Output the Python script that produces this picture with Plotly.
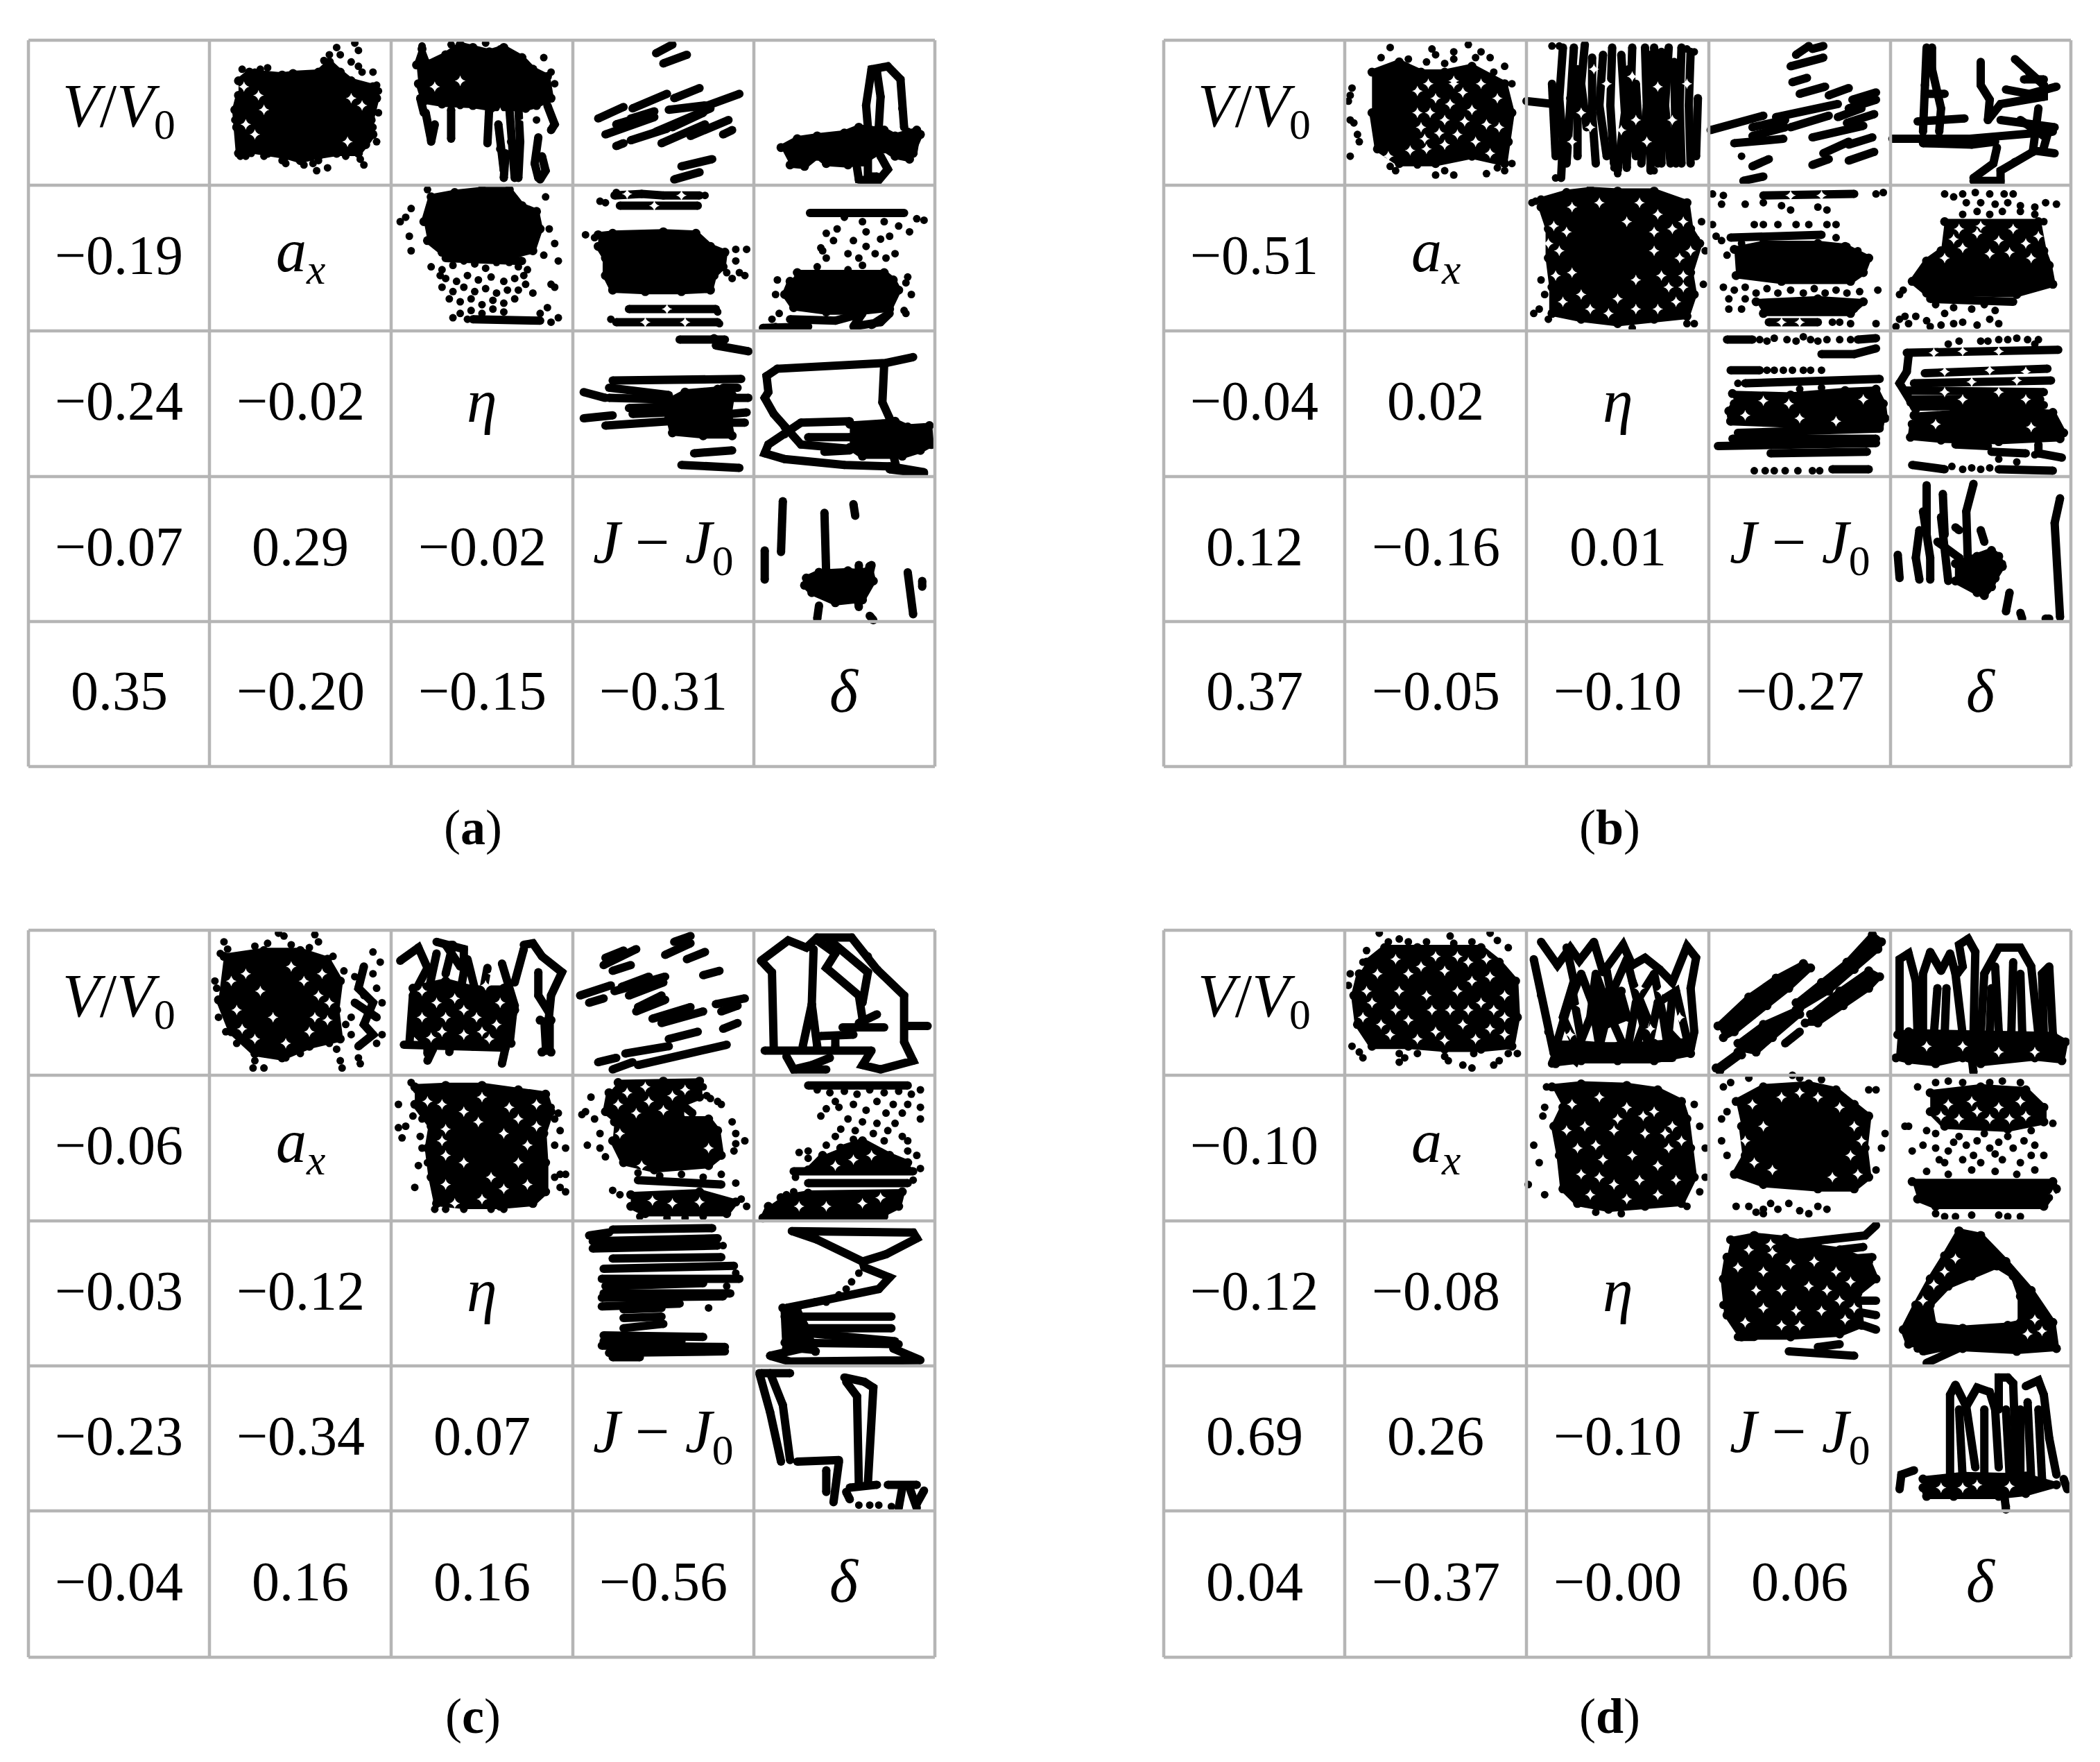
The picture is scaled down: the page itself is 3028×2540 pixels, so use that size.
import plotly.graph_objects as go

diag_labels = ["<i>V</i>/<i>V</i><sub>0</sub>", "<i>a</i><sub><i>x</i></sub>", "<i>η</i>",
               "<i>J</i> − <i>J</i><sub>0</sub>", "<i>δ</i>"]
panel_names = ["a", "b", "c", "d"]
corr_a = ["−0.19", "−0.24", "−0.02", "−0.07", "0.29", "−0.02", "0.35", "−0.20", "−0.15", "−0.31"]
corr_b = ["−0.51", "−0.04", "0.02", "0.12", "−0.16", "0.01", "0.37", "−0.05", "−0.10", "−0.27"]
corr_c = ["−0.06", "−0.03", "−0.12", "−0.23", "−0.34", "0.07", "−0.04", "0.16", "0.16", "−0.56"]
corr_d = ["−0.10", "−0.12", "−0.08", "0.69", "0.26", "−0.10", "0.04", "−0.37", "−0.00", "0.06"]

# ---------- panel a ----------
a01_fill = [[(16,28),(22,22),(40,24),(46,23),(60,22),(66,15),(72,22),(78,28),(90,32),(92,40),(89,55),(90,65),(86,72),(82,78),(70,78),(60,80),(50,83),(42,80),(32,78),(22,76),(16,78),(15,60),(14,48),(16,38)]]
a01_dots = [(80,2),(82,7),(70,5),(72,10),(63,14),(66,10),(78,15),(82,18),(90,22),(84,22),(93,35),(92,31),(92,70),(85,86),(65,88),(59,90),(57,85),(42,85),(40,83),(52,86),(25,22),(28,20),(33,24),(38,25),(32,19),(23,78),(17,80),(60,83),(75,80),(83,82),(18,20),(20,80),(30,80),(14,55),(93,50),(90,60)]
a01_gaps = [(27,38),(30,48),(25,65),(78,40),(20,58),(76,70),(84,45),(19,32)]
a02_fill = [[(14,17),(17,6),(20,16),(30,10),(38,3),(45,5),(54,8),(62,5),(72,12),(78,20),(86,25),(88,40),(80,45),(74,47),(55,47),(45,45),(28,44),(18,42),(15,30)]]
a02_lines = [[(19,50),(22,69)],[(33,48),(33,68)],[(24,58),(22,70)],[(54,46),(53,71)],[(59,58),(60,75),(62,90)],[(65,46),(66,70),(68,95)],[(70,46),(71,70),(70,95)],[(81,67),(79,85),(81,95)],[(83,80),(85,90),(82,96)],[(86,45),(90,58),(88,62)],[(63,78),(62,95)],[(16,40),(18,50)]]
a02_dots = [(88,22),(90,30),(84,12),(17,4),(33,3),(52,2),(60,6),(38,45),(80,55)]
a02_gaps = [(38,28),(24,32),(60,50),(74,55)]
a03_lines = [[(46,9),(55,3)],[(50,16),(63,10)],[(56,40),(70,33)],[(33,47),(52,37)],[(14,54),(28,46)],[(18,65),(45,53)],[(70,47),(92,37)],[(32,54),(45,49)],[(46,63),(76,47)],[(49,71),(73,58)],[(65,66),(86,55)],[(32,69),(52,61)],[(24,73),(28,71)],[(83,65),(88,62)],[(53,48),(73,45)],[(60,87),(77,82)],[(56,96),(70,91)],[(24,58),(40,52)],[(55,60),(72,50)]]
a04_fill = [[(15,74),(24,68),(35,66),(50,64),(58,60),(72,62),(78,66),(90,62),(92,65),(88,78),(86,82),(78,80),(72,75),(60,84),(52,86),(40,85),(35,80),(28,87),(20,86)]]
a04_lines = [[(63,60),(62,45),(65,20),(74,18),(81,27),(82,47),(83,60)],[(69,60),(70,39),(68,22)],[(56,80),(58,96),(68,98),(74,89),(70,80)],[(63,82),(63,94),(68,94)],[(85,63),(86,79)],[(90,63),(88,78)]]
a12_fill = [[(18,25),(22,8),(35,5),(50,3),(65,3),(72,14),(80,18),(82,30),(78,45),(62,50),(45,48),(28,46),(20,38)]]
a12_lines = [[(45,92),(82,93)],[(30,50),(72,52)]]
a12_dots = [(22,56),(28,58),(34,55),(40,52),(46,54),(52,57),(58,53),(65,53),(70,56),(75,58),(30,64),(36,66),(42,62),(48,65),(55,63),(62,66),(68,64),(73,62),(28,70),(34,73),(40,70),(46,73),(52,71),(58,74),(64,72),(32,78),(38,80),(44,78),(50,82),(56,79),(62,81),(68,78),(78,74),(88,68),(90,70),(44,86),(50,88),(56,85),(62,87),(38,88),(34,91),(42,92),(82,88),(88,94),(86,84),(92,91),(87,30),(90,40),(84,48),(92,52),(11,16),(8,22),(5,25),(10,35),(11,45),(85,8),(20,3),(27,62),(70,72),(74,68)]
a13_fill = [[(14,34),(22,33),(50,32),(68,33),(76,42),(84,46),(83,56),(78,62),(76,72),(60,73),(40,73),(22,72),(18,62),(18,50),(14,42)]]
a13_lines = [[(23,7),(38,6),(50,7),(70,7)],[(26,14),(69,14)],[(31,85),(79,85)],[(24,94),(80,94)]]
a13_dots = [(7,34),(12,36),(90,44),(96,44),(90,52),(85,60),(92,60),(88,64),(95,62),(24,5),(15,11),(18,12),(73,7),(80,87),(81,95),(21,92)]
a13_gaps = [(30,6),(45,14),(60,7),(52,85),(40,94),(62,94)]
a14_fill = [[(24,60),(72,60),(77,65),(80,72),(75,85),(60,87),(40,87),(22,84),(17,75),(20,66)]]
a14_lines = [[(31,19),(83,19)],[(5,98),(30,97),(20,92),(45,93),(60,88),(55,97),(70,94),(75,88),(65,96)]]
a14_dots = [(60,25),(50,22),(46,30),(62,32),(72,25),(80,28),(86,32),(40,33),(44,38),(55,38),(62,42),(70,37),(75,35),(37,43),(38,45),(40,50),(52,47),(58,50),(67,47),(78,47),(73,50),(35,56),(52,58),(60,55),(85,63),(84,67),(87,75),(13,65),(12,75),(14,88),(10,92),(84,88),(83,86),(12,97),(90,23),(94,24)]
a23_fill = [[(53,48),(62,42),(80,40),(88,44),(86,60),(88,72),(72,72),(55,70),(53,60)]]
a23_lines = [[(59,6),(78,5),(84,6),(79,10),(97,14)],[(22,34),(93,33)],[(6,42),(18,46)],[(20,39),(53,44)],[(20,46),(53,47)],[(31,53),(53,52)],[(33,57),(53,56)],[(6,60),(22,58)],[(18,65),(53,62)],[(86,46),(97,46)],[(87,57),(96,56)],[(87,63),(95,63)],[(83,39),(91,39)],[(67,84),(88,82)],[(60,92),(92,94)]]
a24_fill = [[(53,64),(78,62),(85,66),(97,65),(98,78),(92,82),(82,86),(60,86),(53,80)]]
a24_lines = [[(88,18),(73,22),(13,26),(7,31),(8,42),(6,46),(11,57),(17,66),(26,78),(53,81)],[(72,23),(71,49),(75,60)],[(26,63),(17,71),(8,78),(6,84),(17,88),(50,92),(75,93),(94,97)],[(77,85),(79,95)],[(30,73),(53,73)],[(39,83),(53,82)],[(26,63),(53,62)],[(75,95),(94,98)]]
a34_fill = [[(29,70),(36,66),(52,65),(61,66),(64,62),(66,72),(60,85),(45,87),(32,80),(28,75)]]
a34_lines = [[(16,17),(15,52)],[(6,51),(6,71)],[(39,25),(40,69)],[(55,19),(56,27)],[(58,61),(58,72)],[(65,61),(63,72)],[(85,66),(88,95)],[(93,72),(93,76)],[(36,89),(35,98)],[(64,96),(66,99)],[(57,80),(58,90)]]

# ---------- panel b ----------
b01_fill = [[(15,22),(30,15),(42,22),(55,22),(70,18),(88,30),(92,50),(90,70),(88,85),(70,80),(50,85),(30,85),(18,75),(15,50)]]
b01_dots = [(25,5),(48,6),(50,10),(68,3),(60,13),(72,12),(80,12),(88,18),(35,13),(20,12),(4,33),(3,38),(2,42),(5,57),(3,55),(7,65),(8,70),(3,80),(28,90),(25,87),(40,86),(50,93),(55,90),(60,93),(78,92),(84,88),(88,90),(92,85),(60,8),(75,8),(45,15),(55,16),(82,22),(92,30)]
b01_gaps = [(40,35),(42,60),(47,50),(55,55),(60,30),(70,48),(72,70),(45,75),(60,28),(65,36),(50,40),(40,50),(62,65),(75,30),(85,60),(55,72),(78,58),(46,30),(52,64),(66,56),(58,44),(84,40),(80,78),(44,68),(36,76),(24,80)]
b02_lines = [[(20,5),(18,40),(20,70),(19,95)],[(26,5),(24,40),(22,85)],[(32,3),(30,30),(33,60)],[(42,10),(40,45),(44,80)],[(47,5),(46,45),(48,85)],[(52,10),(54,50),(50,90)],[(58,5),(57,45),(60,80)],[(65,5),(66,45),(63,85)],[(70,5),(71,40),(72,85)],[(78,5),(76,45),(79,85)],[(85,5),(84,45),(85,85)],[(90,8),(89,45),(90,85)],[(0,42),(15,44)],[(36,12),(36,50)],[(60,30),(62,72)],[(14,30),(16,80)],[(94,40),(93,80)],[(36,50),(38,85)],[(28,20),(28,80)],[(56,20),(55,88)],[(74,8),(74,85)],[(81,15),(82,85)],[(68,10),(68,90)]]
b02_dots = [(14,4),(18,4),(88,6),(92,8),(16,95),(50,92),(48,88),(70,90)]
b02_gaps = [(37,20),(35,60),(44,30),(52,62),(60,55),(72,32),(58,25),(80,55),(30,50),(66,70),(88,30),(25,70)]
b03_lines = [[(48,10),(55,4)],[(57,6),(63,4)],[(45,18),(63,12)],[(46,29),(54,26)],[(50,37),(64,32)],[(66,38),(77,33)],[(79,41),(92,36)],[(77,47),(92,41)],[(1,62),(30,52)],[(37,53),(71,44)],[(45,60),(66,52)],[(76,57),(91,51)],[(24,60),(42,55)],[(24,66),(42,60)],[(14,71),(41,68)],[(57,67),(85,59)],[(77,72),(90,67)],[(63,78),(77,70)],[(77,83),(91,77)],[(57,86),(66,82)],[(24,87),(33,82)],[(19,97),(30,94)],[(71,53),(84,47)]]
b03_dots = [(18,80)]
b04_lines = [[(1,68),(18,68),(43,68),(90,63)],[(20,5),(19,31),(18,63)],[(23,5),(23,20),(28,47),(27,63)],[(50,15),(50,31),(55,41),(54,55)],[(69,13),(77,23),(85,31),(85,39),(61,44),(54,55)],[(74,27),(85,27)],[(64,34),(77,37),(92,32)],[(82,47),(79,76),(91,78)],[(15,56),(41,54)],[(61,55),(91,60)],[(87,65),(85,74)],[(59,74),(57,85),(46,95)],[(79,77),(69,84),(61,90),(61,97),(46,97)],[(18,71),(45,72),(58,70)],[(20,37),(30,37)],[(72,55),(85,66)],[(20,70),(45,70)]]
b12_fill = [[(8,10),(22,5),(35,3),(50,4),(70,4),(88,12),(90,30),(95,40),(90,60),(92,75),(88,90),(70,92),(50,95),(30,92),(14,88),(14,70),(12,50),(12,30),(8,15)]]
b12_gaps = [(15,28),(18,45),(16,62),(20,80),(72,20),(80,30),(84,50),(78,70),(82,80),(25,15),(62,12),(70,45),(74,62),(25,60),(30,75),(60,85),(45,88),(35,85),(72,85),(86,25),(40,12),(60,65),(50,78),(86,70),(22,32),(90,45),(12,40),(86,62),(70,32),(55,25)]
b12_dots = [(5,11),(3,12),(96,25),(93,37),(98,45),(4,88),(92,95),(58,98),(10,75),(7,85),(97,68),(8,65),(12,92),(88,95)]
b13_fill = [[(14,44),(30,40),(60,40),(75,42),(88,50),(85,60),(78,66),(40,66),(15,62)],[(26,80),(60,78),(85,80),(78,88),(30,88)]]
b13_lines = [[(30,7),(80,6)],[(33,94),(60,94)],[(12,36),(62,34)]]
b13_dots = [(2,6),(8,7),(92,6),(96,5),(7,13),(20,13),(30,12),(40,14),(45,17),(60,15),(65,17),(2,27),(25,27),(30,27),(38,27),(48,27),(55,27),(65,27),(70,27),(8,70),(14,72),(20,70),(26,74),(32,71),(38,74),(45,72),(52,74),(58,71),(64,74),(70,72),(76,74),(83,73),(93,72),(11,78),(20,78),(11,85),(18,85),(80,85),(68,94),(72,94),(78,95),(92,95),(14,36),(18,40),(10,48),(7,38),(4,35),(70,36),(76,42),(82,45)]
b13_gaps = [(40,94),(50,94),(45,7),(62,7)]
b14_fill = [[(30,25),(82,25),(85,45),(88,55),(90,68),(70,75),(20,74),(12,66),(20,52),(28,45)]]
b14_gaps = [(35,37),(48,33),(60,38),(75,40),(82,35),(30,50),(55,47),(40,43),(68,30),(50,28),(66,46),(78,50),(38,30)]
b14_lines = [[(22,78),(68,80)]]
b14_dots = [(30,6),(35,8),(40,6),(47,5),(55,6),(63,6),(68,6),(42,12),(50,12),(58,13),(65,12),(72,14),(80,15),(86,12),(92,13),(40,20),(48,18),(55,20),(62,18),(72,18),(80,20),(85,25),(25,82),(35,84),(45,85),(52,82),(58,86),(30,88),(5,92),(10,95),(14,90),(20,93),(28,96),(35,95),(40,94),(48,96),(55,92),(60,95),(3,97),(22,97),(8,90),(5,75),(7,72)]
b23_fill = [[(13,43),(45,44),(75,41),(92,40),(96,50),(97,60),(94,64),(60,62),(12,62),(11,55),(14,50)]]
b23_lines = [[(10,6),(24,6)],[(62,16),(80,16),(92,12)],[(12,27),(28,27)],[(20,36),(50,35),(94,33)],[(12,62),(94,66)],[(16,70),(94,67)],[(13,74),(92,74)],[(5,79),(92,77)],[(34,84),(87,83)],[(68,95),(88,95)],[(82,6),(92,5)]]
b23_dots = [(28,6),(32,7),(36,5),(43,6),(48,7),(52,4),(56,6),(60,7),(65,6),(72,6),(78,6),(32,27),(36,27),(41,27),(46,27),(52,27),(56,27),(62,27),(16,36),(25,96),(31,96),(36,96),(42,96),(49,96),(57,96),(61,96),(50,40),(62,39)]
b23_gaps = [(20,58),(50,60),(30,48),(70,62),(44,50),(85,47)]
b24_fill = [[(13,58),(35,56),(60,54),(90,56),(96,70),(94,74),(60,76),(28,75),(11,73),(12,64)]]
b24_lines = [[(9,15),(93,13)],[(19,29),(87,26)],[(13,36),(89,34)],[(8,41),(85,42)],[(11,47),(83,47)],[(13,52),(85,51)],[(10,17),(9,28),(5,36),(11,49),(14,54)],[(36,78),(54,79)],[(56,83),(75,84)],[(82,78),(82,84),(95,87)],[(12,92),(30,95)],[(60,95),(90,96)]]
b24_dots = [(32,9),(38,7),(50,7),(54,7),(60,6),(65,6),(70,5),(76,6),(80,9),(82,6),(34,93),(40,95),(45,94),(50,95),(55,94),(60,88),(70,90),(80,85)]
b24_gaps = [(24,15),(40,14),(60,14),(30,28),(55,27),(75,28),(45,35),(70,34),(30,42),(60,42),(40,47),(75,47),(25,64),(78,66)]
b34_fill = [[(36,60),(48,55),(56,51),(60,55),(62,62),(58,70),(56,76),(52,82),(48,80),(36,72)]]
b34_lines = [[(20,6),(20,40)],[(29,12),(30,40)],[(46,5),(42,24),(43,64)],[(18,24),(22,56),(22,71)],[(16,37),(14,56),(16,71)],[(4,54),(5,70)],[(28,28),(32,72)],[(36,35),(38,37)],[(50,37),(52,45)],[(26,45),(38,56),(38,72)],[(94,15),(91,32),(94,97)],[(66,80),(64,93)],[(72,94),(73,98)],[(86,98),(88,98)]]
b34_dots = [(62,60),(50,80)]

# ---------- panel c ----------
c01_fill = [[(8,18),(30,14),(50,14),(65,20),(72,35),(70,55),(72,75),(55,80),(40,88),(25,85),(12,70),(5,48)]]
c01_lines = [[(85,25),(82,40),(90,50),(85,65),(90,72),(82,80)],[(80,50),(92,60)]]
c01_dots = [(38,2),(41,4),(58,3),(60,8),(8,8),(10,13),(6,16),(25,90),(30,95),(24,95),(42,88),(72,90),(73,95),(83,92),(90,15),(94,22),(92,40),(78,60),(75,65),(95,50),(95,72),(92,78),(70,82),(82,88),(3,35),(4,40),(25,11),(32,9),(45,10),(55,12),(68,18),(74,28),(5,60),(9,70),(15,78),(50,85),(66,78),(80,32),(85,45),(90,30),(78,72)]
c01_gaps = [(20,30),(35,60),(60,45),(55,70),(25,75),(45,25),(15,55),(62,30),(28,42),(65,62),(52,35),(18,68),(12,35),(42,78),(66,50),(58,60)]
c02_fill = [[(12,40),(30,35),(45,40),(62,40),(68,55),(66,78),(45,80),(20,80),(12,70)],[(82,62),(88,62),(88,84),(83,84)]]
c02_lines = [[(5,21),(15,12),(20,26),(12,45),(10,79)],[(25,8),(33,10),(40,13),(40,29),(35,61),(32,84)],[(25,16),(20,45),(20,85)],[(53,26),(50,45),(45,80)],[(61,23),(68,52),(61,92)],[(73,10),(78,9),(83,18),(94,29),(88,45),(86,64),(85,83)],[(73,13),(68,36)],[(81,29),(81,45),(87,57)],[(7,79),(63,81)],[(20,90),(23,82)],[(30,10),(38,25)],[(34,10),(30,30)],[(42,20),(46,40)]]
c02_gaps = [(25,50),(40,55),(52,38),(47,60),(28,70),(58,65),(40,72),(56,30),(17,60),(54,75),(35,47),(60,50),(17,42),(50,70),(30,60),(22,74)]
c03_lines = [[(51,17),(65,9)],[(56,8),(65,4)],[(63,20),(73,15)],[(72,31),(81,28)],[(17,24),(35,13)],[(18,19),(28,14)],[(22,28),(32,24)],[(4,45),(21,38)],[(23,42),(51,32)],[(27,39),(42,32)],[(31,45),(50,36)],[(9,50),(17,47)],[(36,53),(49,45)],[(35,56),(51,48)],[(44,61),(65,53)],[(49,64),(72,56)],[(79,51),(95,47)],[(82,56),(91,52)],[(83,68),(91,64)],[(53,75),(69,70)],[(29,85),(53,80)],[(14,91),(24,88)],[(22,96),(33,91)],[(36,93),(85,79)]]
c04_lines = [[(4,21),(19,7),(29,12),(35,5),(54,5),(63,18),(68,27),(83,45),(83,77),(88,90),(70,96),(60,93),(65,83),(6,83)],[(4,21),(10,29),(11,82)],[(35,7),(45,16),(40,26),(58,45),(60,61)],[(42,7),(63,29),(60,50)],[(33,13),(32,51),(27,80)],[(32,51),(35,80)],[(58,64),(68,58)],[(49,67),(72,67)],[(37,73),(55,72)],[(45,74),(45,80)],[(85,66),(96,66)],[(18,87),(22,96),(32,93),(42,88)],[(23,96),(40,96)]]
c12_fill = [[(13,8),(30,7),(50,7),(70,10),(85,13),(88,25),(84,40),(85,60),(85,80),(78,88),(60,90),(40,90),(25,88),(22,70),(20,50),(22,35),(13,20)]]
c12_gaps = [(28,20),(50,15),(65,22),(30,37),(48,32),(62,40),(30,55),(40,60),(70,60),(55,70),(30,75),(75,75),(50,85),(80,35),(35,88),(70,30),(20,18),(80,20),(40,25),(75,48),(28,45),(62,78)]
c12_dots = [(4,20),(11,5),(14,10),(88,22),(92,26),(4,36),(8,35),(6,43),(17,30),(12,28),(93,38),(96,50),(90,48),(15,62),(20,60),(93,68),(96,68),(96,80),(93,77),(13,77),(24,92),(30,92),(40,92),(55,92),(62,92),(16,42),(17,50),(90,30),(90,70)]
c13_fill = [[(23,32),(50,30),(75,30),(80,38),(82,55),(75,62),(45,65),(28,60),(22,45)],[(25,5),(50,4),(70,4),(70,15),(60,20),(60,30),(25,32),(18,25),(20,12)],[(32,82),(70,80),(90,87),(85,95),(40,95),(32,90)]]
c13_lines = [[(36,72),(82,75)],[(60,20),(66,26)]]
c13_gaps = [(30,12),(42,18),(55,14),(35,26),(50,24),(62,10),(26,40),(75,50),(40,8),(25,20),(38,62),(55,88),(70,87),(44,86)]
c13_dots = [(10,15),(7,25),(5,27),(12,30),(15,40),(80,18),(76,16),(82,20),(88,32),(90,40),(90,47),(89,52),(8,48),(15,50),(18,56),(95,45),(36,67),(48,69),(60,68),(72,70),(82,68),(90,74),(22,79),(26,82),(93,85),(96,90),(37,97),(52,98),(62,98),(72,97),(72,8),(74,14)]
c14_fill = [[(15,84),(30,81),(82,80),(80,90),(72,95),(5,98),(8,90)],[(48,50),(60,45),(75,55),(85,60),(85,65),(30,65),(38,55)]]
c14_lines = [[(30,7),(85,7)],[(22,66),(88,66)],[(30,74),(85,74)],[(5,98),(72,97)]]
c14_dots = [(35,10),(42,12),(50,11),(57,13),(64,10),(72,12),(80,11),(87,13),(92,10),(45,18),(55,20),(68,18),(77,20),(85,20),(92,22),(40,23),(47,22),(62,24),(73,26),(82,26),(37,28),(52,30),(60,32),(68,33),(78,33),(92,30),(48,37),(56,38),(66,40),(74,38),(82,42),(45,42),(55,44),(72,45),(85,45),(40,48),(30,52),(25,53),(30,57),(85,52),(90,55),(23,70),(88,72),(92,64),(22,80),(18,82)]
c14_gaps = [(55,58),(65,55),(45,62),(40,90),(60,88),(25,90),(70,84)]
c23_lines = [[(9,10),(20,8)],[(22,6),(77,5)],[(11,14),(80,12)],[(11,19),(80,17)],[(22,26),(82,25)],[(17,33),(89,31)],[(16,40),(92,40)],[(18,45),(72,43)],[(17,50),(87,50)],[(16,53),(83,52)],[(16,59),(59,57)],[(28,61),(49,60)],[(28,67),(49,66)],[(28,74),(50,71)],[(17,79),(72,80)],[(16,86),(84,87)],[(20,91),(84,90)],[(22,94),(37,94)],[(17,83),(60,83)]]
c23_dots = [(83,17),(75,60),(90,36),(85,45)]
c24_fill = [[(16,60),(24,60),(30,75),(34,90),(18,88)]]
c24_lines = [[(21,7),(88,8),(90,12),(73,23),(60,28),(35,13),(21,7)],[(60,28),(61,32),(75,39),(69,47),(34,56),(18,60)],[(17,61),(18,87)],[(17,66),(76,66)],[(22,74),(76,74)],[(18,76),(78,83)],[(17,84),(80,85)],[(9,93),(30,87)],[(9,93),(20,97),(92,96),(77,88)]]
c24_dots = [(58,36),(54,42),(51,47),(47,51),(40,56)]
c34_lines = [[(3,5),(9,32),(15,66)],[(9,5),(16,27),(20,65)],[(4,5),(20,5)],[(24,66),(47,65)],[(51,11),(57,21),(58,82)],[(50,8),(61,11),(66,15),(63,81)],[(40,72),(40,87)],[(47,66),(44,94)],[(53,84),(68,82)],[(51,87),(53,92)],[(74,82),(90,82)],[(82,84),(80,98)],[(86,84),(90,98)],[(94,86),(90,95)]]
c34_dots = [(58,96),(64,96),(69,96),(76,97)]

# ---------- panel d ----------
d01_fill = [[(12,22),(22,12),(40,12),(60,12),(75,12),(85,22),(94,35),(95,60),(92,80),(75,82),(55,82),(35,80),(15,80),(7,65),(5,45),(8,30)]]
d01_gaps = [(18,30),(28,20),(42,25),(55,28),(68,22),(80,32),(88,45),(75,50),(62,42),(45,45),(30,42),(15,50),(20,65),(35,62),(50,70),(65,65),(80,68),(88,72),(72,75),(40,75),(25,72),(58,55),(10,60),(70,35),(35,30),(50,18),(62,18),(78,20),(88,60),(12,42),(48,55),(68,55),(28,55),(82,55),(55,76)]
d01_dots = [(19,2),(24,8),(30,6),(35,8),(58,4),(60,9),(80,2),(84,7),(90,12),(12,14),(10,22),(3,30),(2,38),(4,80),(8,84),(10,88),(33,88),(30,91),(40,85),(55,87),(57,90),(65,93),(70,95),(82,93),(85,90),(71,85),(95,85),(90,85),(45,8),(70,8),(30,85)]
d02_fill = [[(34,42),(52,42),(56,60),(40,68)],[(16,78),(30,78),(50,80),(70,78),(90,76),(90,85),(70,90),(50,90),(30,90),(16,92)]]
d02_lines = [[(8,8),(17,24),(24,12),(29,21),(37,8),(42,29),(53,10),(58,24),(65,19),(73,27),(80,36),(88,11),(93,19),(90,40),(92,70),(90,82)],[(4,20),(8,45),(12,70),(15,85),(22,55),(30,30),(36,50),(40,80),(48,40),(55,20),(62,55),(67,80),(72,50),(82,42),(88,75)],[(22,12),(26,35),(20,60),(28,82),(35,60),(38,30),(48,65),(55,85),(60,50),(70,30),(75,60),(78,85)],[(15,80),(90,80)],[(14,92),(18,80),(27,90),(30,82),(45,85),(55,88),(80,88)],[(25,40),(30,75)],[(58,35),(66,60),(60,80)],[(80,45),(78,70),(84,78)],[(44,28),(46,42)]]
d02_gaps = [(18,40),(30,52),(24,72),(62,40),(68,68),(84,60),(74,42)]
d03_fill = [[(5,66),(22,46),(37,33),(52,23),(56,26),(44,40),(32,52),(14,70),(8,74)],[(48,50),(62,36),(76,22),(90,3),(95,8),(93,13),(80,27),(66,42),(50,54)],[(16,78),(30,65),(48,55),(50,58),(35,74),(26,84),(18,82)],[(4,95),(16,84),(18,86),(6,97)],[(56,58),(72,42),(88,28),(94,32),(88,40),(74,52),(60,64),(53,64)]]
d03_lines = [[(42,78),(50,70)],[(26,82),(34,74)]]
d04_fill = [[(4,72),(10,70),(90,72),(97,77),(95,90),(80,88),(50,92),(40,88),(25,92),(10,90),(3,88)]]
d04_lines = [[(45,88),(46,98)],[(5,72),(5,20),(10,16),(14,35),(15,72)],[(18,72),(18,30),(22,15),(28,28),(33,16),(36,30),(40,72)],[(37,30),(40,25),(38,10),(43,6),(47,15),(46,72)],[(50,72),(52,30),(60,12),(72,12),(78,25),(82,72)],[(60,70),(58,25)],[(67,70),(68,22)],[(85,72),(84,30),(88,25),(90,72)],[(24,72),(26,40)],[(30,72),(31,40)],[(55,70),(56,40)],[(73,70),(72,30)]]
d04_gaps = [(20,80),(40,80),(60,84),(80,84)]
d12_fill = [[(14,8),(30,6),(55,7),(72,10),(85,18),(88,30),(90,50),(92,70),(85,88),(65,90),(45,92),(28,88),(20,78),(18,55),(15,35),(20,22)]]
d12_gaps = [(25,20),(40,15),(55,22),(70,25),(80,35),(32,35),(48,38),(65,40),(78,50),(28,50),(42,58),(58,55),(72,62),(82,72),(30,68),(48,75),(62,72),(35,82),(72,82),(55,85),(22,38),(85,45),(50,30),(38,48),(64,28),(40,70),(76,40)]
d12_dots = [(11,8),(10,22),(9,28),(4,48),(7,60),(1,75),(10,82),(92,20),(95,35),(98,50),(98,70),(95,80),(38,94),(52,95),(88,90)]
d13_fill = [[(15,18),(30,8),(55,6),(70,10),(80,20),(88,28),(86,50),(88,70),(80,78),(60,78),(30,75),(14,68),(20,55),(18,35)]]
d13_gaps = [(24,20),(40,15),(60,15),(72,22),(30,35),(80,35),(78,55),(35,65),(68,70),(25,60),(82,68),(50,12),(20,45),(84,45)]
d13_dots = [(15,90),(22,90),(26,94),(30,92),(34,88),(30,95),(38,92),(44,88),(50,93),(55,95),(60,90),(65,92),(8,8),(10,25),(12,5),(22,2),(46,0),(50,2),(62,3),(88,10),(92,10),(7,45),(10,55),(95,50),(97,40),(92,65),(7,30)]
d14_fill = [[(12,73),(90,73),(92,78),(85,90),(25,90),(15,85)],[(22,12),(50,8),(75,10),(85,22),(85,32),(65,37),(30,35),(22,25)]]
d14_gaps = [(32,20),(45,18),(60,22),(72,18),(38,30),(55,30),(75,28),(90,82),(28,28),(48,25),(66,30)]
d14_dots = [(15,8),(25,5),(32,4),(40,5),(55,5),(62,4),(72,5),(8,35),(10,35),(20,38),(25,40),(38,42),(52,40),(65,42),(78,38),(90,33),(18,48),(25,50),(32,52),(42,48),(55,50),(68,50),(80,48),(12,52),(30,60),(40,58),(50,60),(62,58),(72,60),(85,55),(20,66),(32,68),(45,65),(58,66),(70,68),(80,65),(25,95),(30,97),(36,97),(45,96),(60,96),(65,97),(72,97),(88,84),(35,46),(48,45),(60,46),(74,45),(27,58),(46,55),(58,54),(78,55)]
d23_fill = [[(12,13),(25,10),(42,12),(60,18),(72,20),(88,28),(92,40),(82,50),(84,72),(72,78),(45,80),(18,80),(10,65),(8,40),(10,25)]]
d23_gaps = [(22,20),(35,22),(30,35),(45,30),(58,28),(70,35),(40,48),(55,45),(72,55),(30,60),(48,62),(62,62),(75,68),(20,70),(80,60),(50,72),(65,48),(40,72),(16,32),(26,48),(78,42),(34,16)]
d23_lines = [[(50,15),(86,10),(92,3)],[(57,28),(90,25)],[(72,20),(85,18)],[(84,37),(92,40)],[(82,55),(92,55)],[(83,63),(92,65)],[(85,72),(92,75)],[(16,80),(25,80)],[(44,90),(80,93)],[(60,87),(72,85)],[(8,58),(15,58)]]
d24_fill = [[(38,7),(50,10),(64,28),(78,48),(90,70),(92,88),(70,90),(40,88),(10,85),(7,75),(14,58),(22,40),(30,24),(38,7),(59,31),(45,38),(32,45),(22,58),(24,72),(40,74),(65,72),(72,70),(72,52),(68,38),(59,31),(38,7)]]
d24_lines = [[(15,88),(30,84)],[(18,90),(48,82)],[(20,98),(30,92),(48,82)]]
d24_gaps = [(30,35),(24,44),(80,68),(76,78),(84,76),(36,26),(18,55)]
d34_fill = [[(18,78),(40,75),(75,76),(92,82),(75,88),(60,90),(35,90),(20,90),(18,84)]]
d34_lines = [[(5,85),(6,75),(13,72)],[(63,88),(64,97),(64,99)],[(33,78),(33,20),(36,13),(42,28),(47,70)],[(42,28),(48,15),(55,18),(58,30),(60,70)],[(60,30),(60,8),(65,8),(68,12),(70,80)],[(75,14),(82,10),(85,20),(88,50),(92,75)],[(40,78),(38,30)],[(52,75),(52,30)],[(78,78),(76,25)],[(96,78),(98,85)],[(66,75),(64,30)],[(72,75),(72,30)],[(84,78),(82,30)]]
d34_gaps = [(28,84),(48,82),(66,83),(40,84)]

# ---------- layout (pixels of the page) ----------
PAGE_MARGIN = 8
FIG_W, FIG_H = 3012, 2524
col_edges_left = [41, 302, 564, 826, 1087, 1348]
col_edges_right = [1678, 1939, 2201, 2464, 2726, 2986]
row_edges_top = [58, 267, 477, 687, 896, 1105]
row_edges_bottom = [1341, 1550, 1760, 1969, 2178, 2389]
panel_cols = [col_edges_left, col_edges_right, col_edges_left, col_edges_right]
panel_rows = [row_edges_top, row_edges_top, row_edges_bottom, row_edges_bottom]
caption_centers = [(682, 1193), (2321, 1193), (682, 2474), (2321, 2474)]
corr_tables = [corr_a, corr_b, corr_c, corr_d]

GRID = "#b5b5b5"
FONT = "Liberation Serif"

def px(x): return (x - PAGE_MARGIN) / FIG_W
def py(y): return 1 - (y - PAGE_MARGIN) / FIG_H

def flat(segments):
    xs, ys = [], []
    for seg in segments:
        xs += [p[0] for p in seg] + [None]
        ys += [p[1] for p in seg] + [None]
    return xs, ys

fig = go.Figure()
layout = dict(width=FIG_W, height=FIG_H, margin=dict(l=0, r=0, t=0, b=0),
              paper_bgcolor="white", plot_bgcolor="rgba(0,0,0,0)", showlegend=False)
shapes, annotations = [], []
axis_no = 0

for k, name in enumerate(panel_names):
    cols, rows = panel_cols[k], panel_rows[k]
    for x in cols:
        shapes.append(dict(type="line", xref="paper", yref="paper", x0=px(x), x1=px(x), y0=py(rows[0]), y1=py(rows[-1]),
                           line=dict(color=GRID, width=4.5), layer="above"))
    for y in rows:
        shapes.append(dict(type="line", xref="paper", yref="paper", x0=px(cols[0]), x1=px(cols[-1]), y0=py(y), y1=py(y),
                           line=dict(color=GRID, width=4.5), layer="above"))
    table = iter(corr_tables[k])
    for r in range(5):
        for c in range(5):
            xc = (cols[c] + cols[c + 1]) / 2
            yc = (rows[r] + rows[r + 1]) / 2 - 4
            if r >= c:
                is_diag = r == c
                text = diag_labels[r] if is_diag else next(table)
                annotations.append(dict(text=text, x=px(xc), y=py(yc), xref="paper", yref="paper",
                                        xanchor="center", yanchor="middle", showarrow=False,
                                        font=dict(family=FONT, size=88 if is_diag else 80, color="black")))
                continue
            axis_no += 1
            suffix = "" if axis_no == 1 else str(axis_no)
            layout["xaxis" + suffix] = dict(domain=[px(cols[c]), px(cols[c + 1])], range=[0, 100], visible=False, fixedrange=True,
                                            anchor="y" + suffix)
            layout["yaxis" + suffix] = dict(domain=[py(rows[r + 1]), py(rows[r])], range=[100, 0], visible=False, fixedrange=True,
                                            anchor="x" + suffix)
            key = f"{name}{r}{c}"
            fills = globals().get(key + "_fill", [])
            lines = globals().get(key + "_lines", [])
            gaps = globals().get(key + "_gaps", [])
            dots = globals().get(key + "_dots", [])
            ax = dict(xaxis="x" + suffix, yaxis="y" + suffix, cliponaxis=False, hoverinfo="skip")
            if fills:
                xs, ys = flat(fills)
                fig.add_trace(go.Scatter(x=xs, y=ys, mode="lines+markers", fill="toself", fillcolor="black",
                                         line=dict(color="black", width=8), marker=dict(color="black", size=13), **ax))
            if lines:
                xs, ys = flat(lines)
                fig.add_trace(go.Scatter(x=xs, y=ys, mode="lines+markers", line=dict(color="black", width=12),
                                         marker=dict(color="black", size=12), **ax))
            if gaps:
                fig.add_trace(go.Scatter(x=[p[0] for p in gaps], y=[p[1] for p in gaps], mode="markers",
                                         marker=dict(color="white", size=11, symbol="star-diamond"), **ax))
            if dots:
                fig.add_trace(go.Scatter(x=[p[0] for p in dots], y=[p[1] for p in dots], mode="markers",
                                         marker=dict(color="black", size=11), **ax))
    cx, cy = caption_centers[k]
    annotations.append(dict(text=f"(<b>{name}</b>)", x=px(cx), y=py(cy), xref="paper", yref="paper",
                            xanchor="center", yanchor="middle", showarrow=False,
                            font=dict(family=FONT, size=72, color="black")))

layout["shapes"] = shapes
layout["annotations"] = annotations
fig.update_layout(**layout)
fig.write_html("out.html", config=dict(displayModeBar=False))
